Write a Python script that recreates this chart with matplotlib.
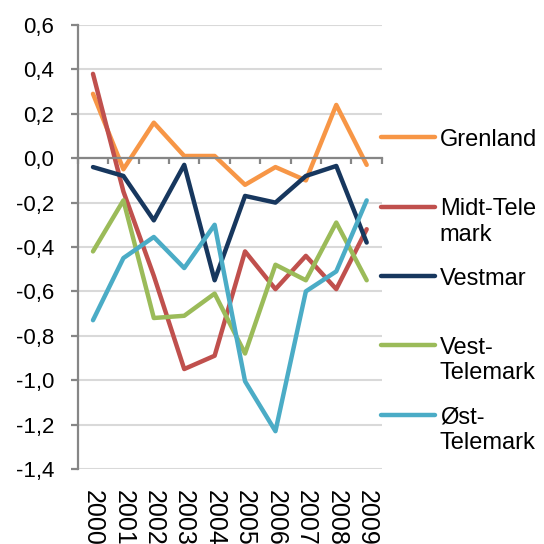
import numpy as np
import matplotlib.pyplot as plt
from matplotlib.ticker import FuncFormatter

plt.rcParams['font.family'] = ['Liberation Sans', 'DejaVu Sans']

years = ["2000", "2001", "2002", "2003", "2004", "2005", "2006", "2007", "2008", "2009"]
grenland = [0.29, -0.05, 0.16, 0.01, 0.01, -0.12, -0.04, -0.10, 0.24, -0.03]
midt_telemark = [0.38, -0.15, -0.53, -0.95, -0.89, -0.42, -0.59, -0.44, -0.59, -0.32]
vestmar = [-0.04, -0.08, -0.28, -0.03, -0.55, -0.17, -0.20, -0.08, -0.035, -0.38]
vest_telemark = [-0.42, -0.19, -0.72, -0.71, -0.61, -0.88, -0.48, -0.55, -0.29, -0.55]
ost_telemark = [-0.73, -0.45, -0.355, -0.495, -0.30, -1.005, -1.23, -0.60, -0.51, -0.19]

# legend labels wrap like in the original; single-line ones get an empty 2nd line
names = ["Grenland\n", "Midt-Tele\nmark", "Vestmar\n", "Vest-\nTelemark", "Øst-\nTelemark"]
series = [grenland, midt_telemark, vestmar, vest_telemark, ost_telemark]
colors = ["#F79646", "#C0504D", "#17375E", "#9BBB59", "#4BACC6"]

fig = plt.figure(figsize=(5.44, 5.44), dpi=100)
ax = fig.add_axes([0.143, 0.138, 0.559, 0.816])

x = np.arange(len(years))
for vals, name, c in zip(series, names, colors):
    ax.plot(x, vals, color=c, lw=3.2, label=name,
            solid_capstyle='round', solid_joinstyle='round')

ax.set_xlim(-0.5, len(years) - 0.5)
ax.set_ylim(-1.4, 0.6)
ax.set_yticks(np.arange(-1.4, 0.61, 0.2))
ax.yaxis.set_major_formatter(FuncFormatter(lambda v, p: f"{v:.1f}".replace(".", ",").replace("-0,0", "0,0")))
ax.yaxis.grid(True, color="#D9D9D9", lw=1.5)
ax.set_axisbelow(True)

grey = "#868686"
for s in ["top", "right"]:
    ax.spines[s].set_visible(False)
ax.spines["left"].set_color(grey)
ax.spines["left"].set_linewidth(1.6)
ax.spines["bottom"].set_position(("data", 0))
ax.spines["bottom"].set_color(grey)
ax.spines["bottom"].set_linewidth(1.6)

ax.tick_params(axis="y", labelsize=16, length=5, width=1.6, color=grey, pad=12)
ax.set_xticks(np.arange(-0.5, len(years), 1.0))
ax.tick_params(axis="x", labelbottom=False, length=4, width=1.6, color=grey)

sec = ax.secondary_xaxis("bottom")
sec.set_xticks(x)
sec.set_xticklabels(years, rotation=270, fontsize=18)
sec.tick_params(length=0, pad=15)
sec.spines["bottom"].set_visible(False)

leg = ax.legend(loc="upper left", bbox_to_anchor=(0.700, 0.763), bbox_transform=fig.transFigure,
                frameon=False, fontsize=17, handlelength=2.3, handletextpad=0.2,
                labelspacing=0.93, borderpad=0, borderaxespad=0)
# put the line next to the first text line, as Excel does
for col in leg._legend_handle_box.get_children():
    for item in col.get_children():
        item.align = "top"

fig.savefig("out.png", dpi=100)
